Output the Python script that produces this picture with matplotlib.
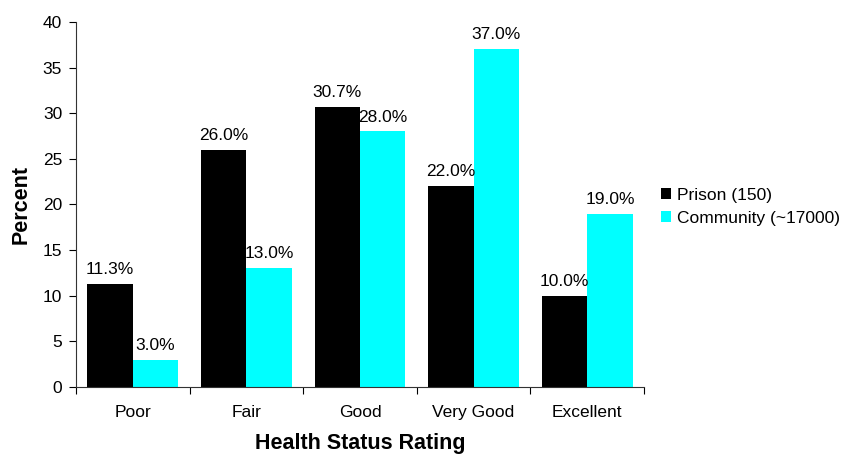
import matplotlib
matplotlib.use("Agg")
import matplotlib.pyplot as plt
import numpy as np

categories = ["Poor", "Fair", "Good", "Very Good", "Excellent"]
prison = [11.3, 26.0, 30.7, 22.0, 10.0]
community = [3.0, 13.0, 28.0, 37.0, 19.0]
series_names = ["Prison (150)", "Community (~17000)"]
yticks = [0, 5, 10, 15, 20, 25, 30, 35, 40]

plt.rcParams["font.family"] = ["Liberation Sans", "DejaVu Sans"]

fig = plt.figure(figsize=(8.42, 4.54), dpi=100)
ax = fig.add_axes([76 / 842, 67 / 454, 568 / 842, 365 / 454])

fs = 12.5
x = np.arange(len(categories))
w = 0.4
b1 = ax.bar(x - w / 2, prison, w, color="black", label=series_names[0])
b2 = ax.bar(x + w / 2, community, w, color="#00ffff", label=series_names[1])

for bars, vals in ((b1, prison), (b2, community)):
    for rect, v in zip(bars, vals):
        ax.annotate(f"{v:.1f}%", (rect.get_x() + rect.get_width() / 2, v),
                    xytext=(0, 5), textcoords="offset points",
                    ha="center", va="bottom", fontsize=fs)

ax.set_xlim(-0.5, len(categories) - 0.5)
ax.set_ylim(0, 40)
ax.set_yticks(yticks)
ax.tick_params(axis="y", labelsize=fs, length=5, width=0.8, pad=5)

# category boundaries carry tick marks; labels sit at the centres
ax.set_xticks(np.arange(-0.5, len(categories), 1.0))
ax.set_xticklabels([])
ax.set_xticks(x, minor=True)
ax.set_xticklabels(categories, minor=True)
ax.tick_params(axis="x", which="major", length=5, width=0.8)
ax.tick_params(axis="x", which="minor", length=0, labelsize=fs, pad=13)

for s in ("top", "right"):
    ax.spines[s].set_visible(False)
ax.spines["left"].set_color("#333333")
ax.spines["bottom"].set_color("#333333")

ax.set_ylabel("Percent", fontsize=15.5, fontweight="bold", labelpad=8)
ax.set_xlabel("Health Status Rating", fontsize=15.5, fontweight="bold", labelpad=9)

ax.legend(loc="upper left", bbox_to_anchor=(578 / 568, 0.565), frameon=False,
          fontsize=fs, handlelength=0.6, handleheight=0.6, handletextpad=0.35,
          labelspacing=0.45, borderaxespad=0)

fig.savefig("out.png", dpi=100)
